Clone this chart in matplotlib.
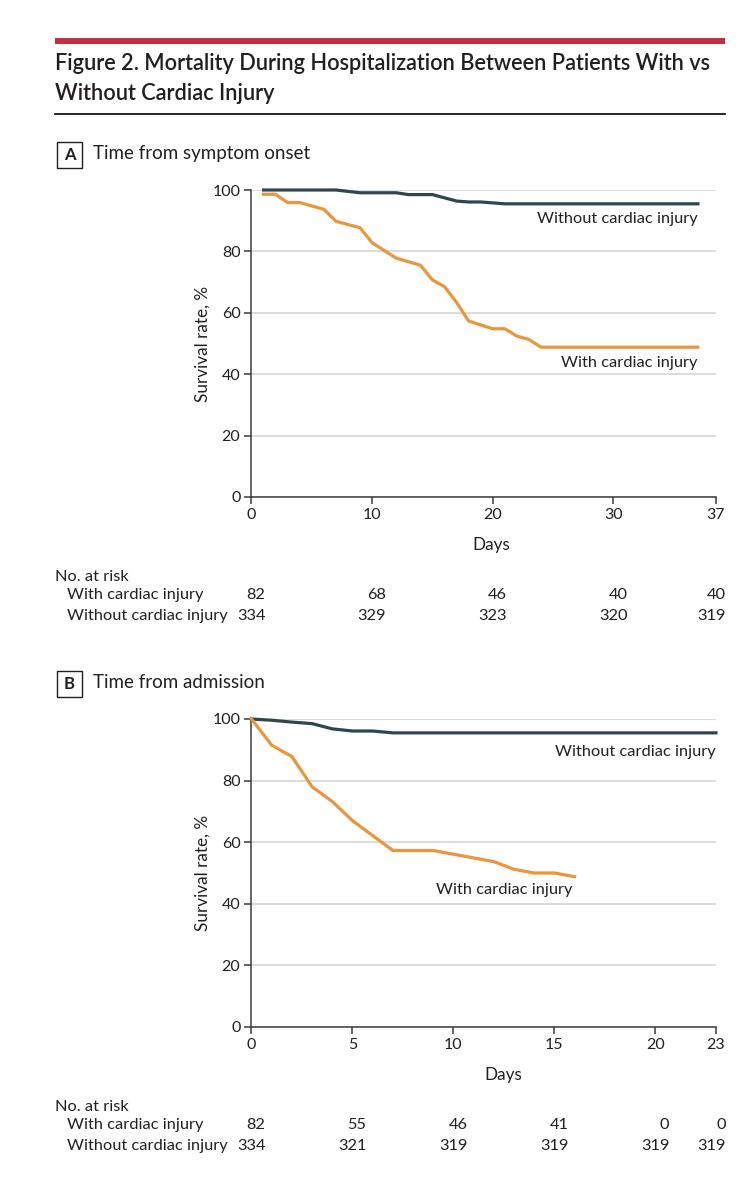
import matplotlib
matplotlib.use("Agg")
import matplotlib.pyplot as plt
import matplotlib.transforms as mtransforms
from matplotlib.patches import Rectangle

# survival curves (days, survival %)
a_with_days = [1, 2, 3, 4, 6, 7, 9, 10, 12, 14, 15, 16, 17, 18, 20, 21, 22, 23, 24, 37]
a_with_surv = [98.6, 98.6, 95.9, 95.9, 93.7, 89.8, 87.7, 82.8, 77.8, 75.5, 70.7, 68.5, 63.4,
               57.3, 54.8, 54.8, 52.4, 51.3, 48.8, 48.8]
a_without_days = [1, 7, 9, 12, 13, 15, 17, 18, 19, 20, 21, 37]
a_without_surv = [100, 100, 99.1, 99.1, 98.5, 98.5, 96.4, 96.1, 96.1, 95.8, 95.5, 95.5]

b_with_days = [0, 1, 2, 3, 4, 5, 7, 9, 12, 13, 14, 15, 16]
b_with_surv = [100, 91.5, 87.8, 78.0, 73.2, 67.0, 57.3, 57.3, 53.7, 51.2, 50.0, 50.0, 48.8]
b_without_days = [0, 1, 2, 3, 4, 5, 6, 7, 23]
b_without_surv = [100, 99.6, 99.0, 98.5, 96.8, 96.1, 96.1, 95.5, 95.5]

# number at risk tables
a_risk_days = [0, 10, 20, 30, 38.5]
a_tick_labels = ["0", "10", "20", "30", "37"]
a_risk_with = [82, 68, 46, 40, 40]
a_risk_without = [334, 329, 323, 320, 319]

b_risk_days = [0, 5, 10, 15, 20, 23]
b_tick_labels = ["0", "5", "10", "15", "20", "23"]
b_risk_with = [82, 55, 46, 41, 0, 0]
b_risk_without = [334, 321, 319, 319, 319, 319]

ORANGE = "#E9963D"
DARK = "#2F4650"
TEXT = "#231F20"
AXC = "#3C3C3C"
FONT = ["Lato", "DejaVu Sans"]
plt.rcParams["font.family"] = FONT
plt.rcParams["text.color"] = TEXT

W, H = 753, 1200
fig = plt.figure(figsize=(W / 100, H / 100), dpi=100)


def fx(px):
    return px / W


def fy(py):
    return 1 - py / H


# header
fig.add_artist(Rectangle((fx(55), fy(44)), fx(725) - fx(55), 6 / H,
                         transform=fig.transFigure, color="#C72C41", lw=0))
fig.text(fx(55), fy(63), "Figure 2. Mortality During Hospitalization Between Patients With vs",
         fontsize=15.7, weight="semibold", va="center")
fig.text(fx(55), fy(93), "Without Cardiac Injury",
         fontsize=15.7, weight="semibold", va="center")
fig.add_artist(plt.Line2D([fx(55), fx(725)], [fy(114), fy(114)],
                          transform=fig.transFigure, color="black", lw=1.2))


def panel(letter, title, top, bottom, xmax, ticks, ticklabels,
          with_d, with_s, wo_d, wo_s, wo_lab, w_lab,
          risk_with, risk_without, days_x):
    # panel label box
    box_top = top - 48
    fig.add_artist(Rectangle((fx(57), fy(box_top + 26)), fx(82) - fx(57), 26 / H,
                             transform=fig.transFigure, fill=False, ec=TEXT, lw=1))
    fig.text(fx(69.5), fy(box_top + 13), letter, fontsize=12, weight="bold",
             ha="center", va="center")
    fig.text(fx(93), fy(box_top + 12), title, fontsize=13.5, va="center")

    ax = fig.add_axes([fx(251.5), fy(bottom), fx(716) - fx(251.5), (bottom - top) / H])
    ax.plot(wo_d, wo_s, color=DARK, lw=2.3, solid_joinstyle="round", clip_on=False, zorder=3)
    ax.plot(with_d, with_s, color=ORANGE, lw=2.3, solid_joinstyle="round", clip_on=False, zorder=3)
    ax.set_xlim(0, xmax)
    ax.set_ylim(0, 100)
    ax.set_xticks(ticks)
    ax.set_xticklabels(ticklabels)
    ax.set_yticks([0, 20, 40, 60, 80, 100])
    ax.yaxis.grid(True, color="#D5D5D5", lw=1.2)
    ax.set_axisbelow(True)
    for s in ["top", "right"]:
        ax.spines[s].set_visible(False)
    for s in ["left", "bottom"]:
        ax.spines[s].set_color(AXC)
        ax.spines[s].set_linewidth(1.1)
    ax.tick_params(direction="out", length=5, width=1.1, color=AXC,
                   labelsize=11.5, labelcolor=TEXT, pad=3)

    ax.text(wo_lab[0], wo_lab[1], "Without cardiac injury", fontsize=11.8,
            ha="right", va="center")
    ax.text(w_lab[0], w_lab[1], "With cardiac injury", fontsize=11.8,
            ha="right", va="center")

    fig.text(fx(203), fy((top + bottom) / 2), "Survival rate, %", rotation=90,
             fontsize=12.3, ha="center", va="center")
    fig.text(fx(days_x), fy(bottom + 48), "Days", fontsize=12.3, ha="center", va="center")

    # at-risk table
    y0 = bottom + 80
    fig.text(fx(55), fy(y0), "No. at risk", fontsize=11.8, va="center")
    fig.text(fx(67), fy(y0 + 18), "With cardiac injury", fontsize=11.8, va="center")
    fig.text(fx(67), fy(y0 + 39), "Without cardiac injury", fontsize=11.8, va="center")
    base = mtransforms.blended_transform_factory(ax.transData, fig.transFigure)
    for i, (d, n1, n2) in enumerate(zip(ticks, risk_with, risk_without)):
        off = 10 if i == len(ticks) - 1 else 14
        tr = base + mtransforms.ScaledTranslation(off / 100, 0, fig.dpi_scale_trans)
        fig.text(d, fy(y0 + 18), str(n1), transform=tr, fontsize=11.8, ha="right", va="center")
        fig.text(d, fy(y0 + 39), str(n2), transform=tr, fontsize=11.8, ha="right", va="center")
    return ax


panel("A", "Time from symptom onset", 190, 497, 38.5, a_risk_days, a_tick_labels,
      a_with_days, a_with_surv, a_without_days, a_without_surv,
      (37, 90.5), (37, 43.6), a_risk_with, a_risk_without, 491)

panel("B", "Time from admission", 719, 1027, 23, b_risk_days, b_tick_labels,
      b_with_days, b_with_surv, b_without_days, b_without_surv,
      (23, 89.2), (15.9, 44.4), b_risk_with, b_risk_without, 503)

fig.savefig("out.png", dpi=100)
